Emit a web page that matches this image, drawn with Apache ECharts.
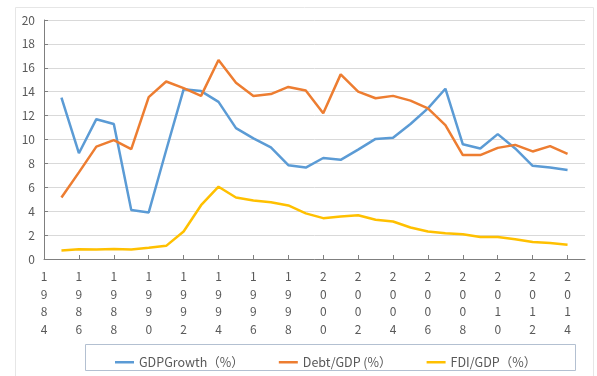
<!DOCTYPE html>
<html>
<head>
<meta charset="utf-8">
<script src="https://cdn.jsdelivr.net/npm/echarts@6/dist/echarts.min.js"></script>
<style>
  html, body { margin: 0; padding: 0; background: #fff; }
  #chart { width: 597px; height: 376px; }
</style>
</head>
<body>
<div id="chart"></div>
<script>
// years on the axis; 1984 and 2015 carry no values (Excel "on tick marks" layout)
const years = [
  '1984', '1985', '1986', '1987', '1988', '1989', '1990', '1991', '1992', '1993',
  '1994', '1995', '1996', '1997', '1998', '1999', '2000', '2001', '2002', '2003',
  '2004', '2005', '2006', '2007', '2008', '2009', '2010', '2011', '2012', '2013',
  '2014', '2015',
]

const gdpGrowth = [
  null, 13.5, 8.85, 11.7, 11.3, 4.1, 3.9, 9.1, 14.2, 14.05,
  13.15, 10.95, 10.1, 9.35, 7.85, 7.65, 8.45, 8.3, 9.15, 10.05,
  10.15, 11.3, 12.6, 14.25, 9.6, 9.25, 10.45, 9.25, 7.8, 7.65,
  7.45, null,
]

const debtGdp = [
  null, 5.15, 7.25, 9.4, 9.95, 9.2, 13.55, 14.85, 14.3, 13.65,
  16.65, 14.75, 13.65, 13.8, 14.4, 14.1, 12.2, 15.45, 14.0, 13.45,
  13.65, 13.25, 12.6, 11.2, 8.7, 8.7, 9.3, 9.55, 9.0, 9.45,
  8.8, null,
]

const fdiGdp = [
  null, 0.72, 0.82, 0.79, 0.83, 0.8, 0.94, 1.1, 2.3, 4.5,
  6.05, 5.15, 4.9, 4.75, 4.48, 3.82, 3.42, 3.55, 3.66, 3.28,
  3.14, 2.64, 2.3, 2.16, 2.08, 1.84, 1.84, 1.66, 1.42, 1.34,
  1.2, null,
]

const seriesNames = ['GDPGrowth（%）', 'Debt/GDP (%）', 'FDI/GDP（%）']
const seriesColors = ['#5b9bd5', '#ed7d31', '#ffc000']

const font = '"Noto Sans CJK SC", "Noto Sans", sans-serif'
const textColor = '#595959'

function makeLine(name, data, color) {
  return {
    name,
    type: 'line',
    data,
    symbol: 'none',
    connectNulls: false,
    lineStyle: { color, width: 2.5 },
    itemStyle: { color },
  }
}

const chart = echarts.init(document.getElementById('chart'))

chart.setOption({
  animation: false,
  backgroundColor: '#fff',
  textStyle: { fontFamily: font },
  grid: { left: 44, right: 12, top: 20, bottom: 117 },
  graphic: [
    {
      type: 'rect',
      shape: { x: 15.5, y: 7.5, width: 578, height: 400 },
      style: { fill: 'none', stroke: '#e6e6e6', lineWidth: 1 },
      silent: true,
    },
    {
      type: 'rect',
      shape: { x: 85.5, y: 344.5, width: 490, height: 26 },
      style: { fill: 'none', stroke: '#b3c0d1', lineWidth: 1 },
      silent: true,
    },
  ],
  legend: {
    left: 115,
    top: 356,
    padding: 0,
    itemGap: 35,
    icon: 'rect',
    itemWidth: 19,
    itemHeight: 2.5,
    data: seriesNames,
    textStyle: { color: textColor, fontSize: 12.5, fontFamily: font },
  },
  xAxis: {
    type: 'category',
    data: years,
    boundaryGap: false,
    axisLine: { lineStyle: { color: '#7f7f7f', width: 1 } },
    axisTick: { interval: 1, inside: true, length: 4, lineStyle: { color: '#7f7f7f' } },
    axisLabel: {
      interval: 1,
      color: textColor,
      fontSize: 12,
      lineHeight: 17.5,
      margin: 9,
      formatter: (v) => v.split('').join('\n'),
    },
    splitLine: { show: false },
  },
  yAxis: {
    type: 'value',
    min: 0,
    max: 20,
    interval: 2,
    axisLine: { show: true, lineStyle: { color: '#7f7f7f', width: 1 } },
    axisTick: { show: true, inside: true, length: 4, lineStyle: { color: '#7f7f7f' } },
    axisLabel: { color: textColor, fontSize: 12, margin: 9 },
    splitLine: { lineStyle: { color: '#d9d9d9', width: 1 } },
  },
  series: [
    makeLine(seriesNames[0], gdpGrowth, seriesColors[0]),
    makeLine(seriesNames[1], debtGdp, seriesColors[1]),
    makeLine(seriesNames[2], fdiGdp, seriesColors[2]),
  ],
})
</script>
</body>
</html>
